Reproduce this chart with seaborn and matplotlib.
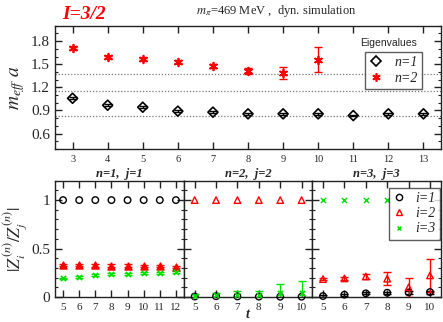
import numpy as np
import pandas as pd
import matplotlib
matplotlib.use("Agg")
import matplotlib.pyplot as plt
from matplotlib.ticker import MultipleLocator
from matplotlib.lines import Line2D
import seaborn as sns

# === Data ===
# top panel: effective masses
t_n1 = [3, 4, 5, 6, 7, 8, 9, 10, 11, 12, 13]
meff_n1 = [1.058, 0.968, 0.942, 0.891, 0.878, 0.856, 0.856, 0.856, 0.834, 0.856, 0.856]
meff_n1_err = [0.012, 0.010, 0.010, 0.010, 0.010, 0.009, 0.009, 0.009, 0.009, 0.009, 0.009]
t_n2 = [3, 4, 5, 6, 7, 8, 9, 10]
meff_n2 = [1.71, 1.594, 1.564, 1.53, 1.474, 1.41, 1.388, 1.56]
meff_n2_err = [0.015, 0.015, 0.015, 0.02, 0.025, 0.04, 0.08, 0.165]
free_levels = [1.371, 1.152, 0.831]

# bottom panels: |Z_i/Z_j| ratios
t_p1 = [5, 6, 7, 8, 9, 10, 11, 12]
p1_i1 = [1, 1, 1, 1, 1, 1, 1, 1]
p1_i2 = [0.33, 0.33, 0.326, 0.325, 0.325, 0.322, 0.318, 0.312]
p1_i2_err = [0.012, 0.012, 0.012, 0.012, 0.012, 0.012, 0.012, 0.012]
p1_i3 = [0.192, 0.209, 0.226, 0.236, 0.240, 0.247, 0.250, 0.257]
p1_i3_err = [0.008, 0.008, 0.008, 0.008, 0.008, 0.008, 0.008, 0.008]

t_p2 = [5, 6, 7, 8, 9, 10]
p2_i1 = [0.005, 0.008, 0.006, 0.004, 0.003, 0.003]
p2_i2 = [1, 1, 1, 1, 1, 1]
p2_i3 = [0.015, 0.02, 0.025, 0.025, 0.04, 0.04]
p2_i3_err = [0.012, 0.02, 0.035, 0.04, 0.09, 0.13]

t_p3 = [5, 6, 7, 8, 9, 10]
p3_i1 = [0.01, 0.024, 0.038, 0.044, 0.048, 0.051]
p3_i1_err = [0.015, 0.01, 0.01, 0.01, 0.012, 0.015]
p3_i2 = [0.185, 0.192, 0.212, 0.189, 0.10, 0.223]
p3_i2_err = [0.01, 0.015, 0.03, 0.068, 0.1, 0.17]
t_p3_i3 = [5, 6, 7, 8]
p3_i3 = [1, 1, 1, 1]

RED = "#ff0000"
GREEN = "#00e000"

sns.set_theme(style="ticks")
plt.rcParams["font.family"] = ["Liberation Serif", "DejaVu Serif"]
plt.rcParams["mathtext.fontset"] = "stix"
plt.rcParams["axes.linewidth"] = 1.0
plt.rcParams["xtick.direction"] = "in"
plt.rcParams["ytick.direction"] = "in"


def style_ticks(ax):
    ax.tick_params(which="both", top=True, right=True, color="#222222")
    ax.tick_params(which="major", length=5, width=1.0)
    ax.tick_params(which="minor", length=2.5, width=0.8)
    for s in ax.spines.values():
        s.set_color("#222222")


def points(ax, x, y, **kw):
    df = pd.DataFrame({"x": x, "y": y})
    sns.scatterplot(data=df, x="x", y="y", ax=ax, legend=False, zorder=3, **kw)


def bars(ax, x, y, err, color, lw=1.0):
    ax.errorbar(x, y, yerr=err, fmt="none", ecolor=color, elinewidth=lw,
                capsize=3, capthick=lw, zorder=2)


fig = plt.figure(figsize=(4.43, 3.22), dpi=100)

# === Top panel ===
ax = fig.add_axes([0.1242, 0.5373, 0.8713, 0.3829])
for lev in free_levels:
    ax.axhline(lev, color="#777777", ls=(0, (1, 1.5)), lw=0.9, zorder=1)
bars(ax, t_n1, meff_n1, meff_n1_err, "black")
bars(ax, t_n2, meff_n2, meff_n2_err, RED)
points(ax, t_n1, meff_n1, marker="D", s=26, facecolor="none", edgecolor="black", linewidth=1.2)
points(ax, t_n2, meff_n2, marker=(6, 2, 0), s=30, color=RED, linewidth=1.3)
ax.set_xlim(2.5, 13.5)
ax.set_ylim(0.4, 2.0)
ax.xaxis.set_major_locator(MultipleLocator(1))
ax.yaxis.set_minor_locator(MultipleLocator(0.1))
ax.set_yticks([0.6, 0.9, 1.2, 1.5, 1.8])
ax.set_yticklabels(["0.6", "0.9", "1.2", "1.5", "1.8"], fontsize=11)
ax.tick_params(axis="x", labelsize=7.5, pad=4)
ax.set_xlabel("")
ax.set_ylabel(r"$m_{eff}\ a$", fontsize=14)
ax.yaxis.set_label_coords(-0.072, 0.5)
style_ticks(ax)

h1 = Line2D([], [], ls="none", marker="D", mfc="none", mec="black", mew=1.2, ms=5)
h2 = Line2D([], [], ls="none", marker=(6, 2, 0), color=RED, mew=1.2, ms=6)
leg = ax.legend([h1, h2], ["n=1", "n=2"], loc="upper left",
                bbox_to_anchor=(0.803, 0.787), borderaxespad=0, frameon=True, fancybox=False,
                handlelength=1.0, handletextpad=0.8, borderpad=0.3, labelspacing=0.2,
                prop={"family": "Liberation Serif", "style": "italic", "size": 10})
leg.get_frame().set_edgecolor("#333333")
leg.get_frame().set_linewidth(1.0)
fig.text(0.878, 0.866, "Eigenvalues", fontsize=7.5, family="Liberation Sans", ha="center", va="center")

# headings
fig.text(0.19, 0.955, "I=3/2", color=RED, fontsize=14, fontweight="bold", style="italic",
         ha="center", va="center")
fig.text(0.625, 0.967, r"$m_\pi$=469 MeV ,  dyn. simulation", fontsize=9, ha="center", va="center")

# === Bottom panels ===
pos = [[0.1242, 0.0776, 0.2911, 0.3612],
       [0.4153, 0.0776, 0.2897, 0.3612],
       [0.7050, 0.0776, 0.2898, 0.3612]]
titles = ["n=1,  j=1", "n=2,  j=2", "n=3,  j=3"]
axes = [fig.add_axes(p) for p in pos]

a1, a2, a3 = axes
bars(a1, t_p1, p1_i2, p1_i2_err, RED)
bars(a1, t_p1, p1_i3, p1_i3_err, GREEN)
points(a1, t_p1, p1_i1, marker="o", s=22, facecolor="none", edgecolor="black", linewidth=1.0)
points(a1, t_p1, p1_i2, marker="^", s=26, facecolor=RED, edgecolor=RED, linewidth=1.0)
points(a1, t_p1, p1_i3, marker="x", s=14, color=GREEN, linewidth=1.2)
a1.set_xlim(4.5, 12.5)

bars(a2, t_p2, p2_i3, p2_i3_err, GREEN)
points(a2, t_p2, p2_i1, marker="o", s=22, facecolor="none", edgecolor="black", linewidth=1.0, clip_on=False)
points(a2, t_p2, p2_i2, marker="^", s=22, facecolor="none", edgecolor=RED, linewidth=1.0)
points(a2, t_p2, p2_i3, marker="x", s=14, color=GREEN, linewidth=1.2, clip_on=False)
a2.set_xlim(4.5, 10.5)

bars(a3, t_p3, p3_i1, p3_i1_err, "black")
bars(a3, t_p3, p3_i2, p3_i2_err, RED)
points(a3, t_p3, p3_i1, marker="o", s=22, facecolor="none", edgecolor="black", linewidth=1.0, clip_on=False)
points(a3, t_p3, p3_i2, marker="^", s=22, facecolor="none", edgecolor=RED, linewidth=1.0)
points(a3, t_p3_i3, p3_i3, marker="x", s=14, color=GREEN, linewidth=1.0)
a3.set_xlim(4.5, 10.5)

for a, ttl in zip(axes, titles):
    a.set_ylim(0, 1.2)
    a.xaxis.set_major_locator(MultipleLocator(1))
    a.yaxis.set_major_locator(MultipleLocator(0.5))
    a.yaxis.set_minor_locator(MultipleLocator(0.1))
    a.set_xlabel("")
    a.set_ylabel("")
    a.tick_params(axis="x", labelsize=8, pad=4)
    a.set_title(ttl, fontsize=9, fontweight="bold", style="italic", pad=3)
    style_ticks(a)
    if a is not a1:
        a.tick_params(axis="y", labelleft=False)

a1.set_yticks([0, 0.5, 1])
a1.set_yticklabels(["0", "0.5", "1"], fontsize=11)
a1.set_ylabel(r"$|Z_i^{(n)}/Z_j^{(n)}|$", fontsize=12.5)
a1.yaxis.set_label_coords(-0.2, 0.5)
fig.text(248 / 443, 1 - 314 / 322, "t", fontsize=10, fontweight="bold", style="italic",
         ha="center", va="center")

g1 = Line2D([], [], ls="none", marker="o", mfc="none", mec="black", mew=1.0, ms=4.5)
g2 = Line2D([], [], ls="none", marker="^", mfc="none", mec=RED, mew=1.0, ms=4.5)
g3 = Line2D([], [], ls="none", marker="x", color=GREEN, mew=1.0, ms=3.5)
leg2 = a3.legend([g1, g2, g3], ["i=1", "i=2", "i=3"], loc="upper right",
                 bbox_to_anchor=(0.995, 0.937), borderaxespad=0, frameon=True, fancybox=False,
                 handlelength=0.8, handletextpad=0.8, borderpad=0.3, labelspacing=0.15,
                 prop={"family": "Liberation Serif", "style": "italic", "size": 10})
leg2.get_frame().set_edgecolor("#333333")
leg2.get_frame().set_linewidth(1.0)

plt.savefig("out.png", dpi=100)
